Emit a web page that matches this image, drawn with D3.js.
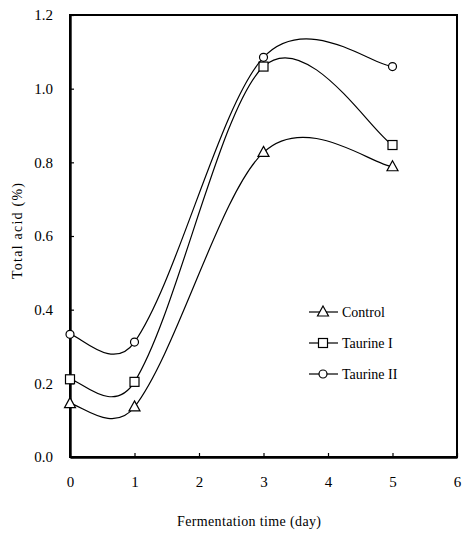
<!DOCTYPE html>
<html><head><meta charset="utf-8">
<script src="https://cdn.jsdelivr.net/npm/d3@7"></script>
<style>body{margin:0;background:#fff}svg{display:block}</style>
</head><body>
<script>
const days = [0, 1, 3, 5];
const control = [0.145, 0.136, 0.827, 0.788];
const taurineI = [0.211, 0.204, 1.06, 0.847];
const taurineII = [0.333, 0.312, 1.085, 1.06];
const seriesNames = ["Control", "Taurine I", "Taurine II"];
const seriesShapes = ["triangle", "square", "circle"];
const xTicks = [0, 1, 2, 3, 4, 5, 6];
const yTicks = [0.0, 0.2, 0.4, 0.6, 0.8, 1.0, 1.2];
const xTitle = "Fermentation time (day)";
const yTitle = "Total acid (%)";

const W = 464, H = 536;
const m = {left: 70, right: 7, top: 15, bottom: 79};
const FONT = '"Liberation Serif"';
const svg = d3.select("body").append("svg").attr("width", W).attr("height", H);
const x = d3.scaleLinear().domain([0, 6]).range([m.left, W - m.right]);
const y = d3.scaleLinear().domain([0, 1.2]).range([H - m.bottom, m.top]);

// smooth curve: Hermite tangents from neighbour finite differences (x-proportional)
function SmoothCurve(context) { this._context = context; }
SmoothCurve.prototype = {
  areaStart() { this._line = 0; }, areaEnd() { this._line = NaN; },
  lineStart() { this._pts = []; },
  point(px, py) { this._pts.push([+px, +py]); },
  lineEnd() {
    const p = this._pts, n = p.length, c = this._context;
    if (!n) return;
    c.moveTo(p[0][0], p[0][1]);
    if (n === 1) return;
    const slope = i => (i === 0 || i === n - 1) ? null
      : (p[i+1][1] - p[i-1][1]) / (p[i+1][0] - p[i-1][0]);
    for (let i = 0; i < n - 1; i++) {
      const a = p[i], b = p[i+1], dx = b[0] - a[0];
      const s0 = slope(i), s1 = slope(i+1);
      const c1 = s0 === null ? [a[0] + (b[0]-a[0])/6, a[1] + (b[1]-a[1])/6] : [a[0] + dx/3, a[1] + s0*dx/3];
      const c2 = s1 === null ? [b[0] - (b[0]-a[0])/6, b[1] - (b[1]-a[1])/6] : [b[0] - dx/3, b[1] - s1*dx/3];
      c.bezierCurveTo(c1[0], c1[1], c2[0], c2[1], b[0], b[1]);
    }
  }
};
const smoothCurve = ctx => new SmoothCurve(ctx);

// frame
svg.append("rect").attr("x", x(0)).attr("y", y(1.2)).attr("width", x(6) - x(0)).attr("height", y(0) - y(1.2))
  .attr("fill", "none").attr("stroke", "#000").attr("stroke-width", 2);

// axes
const xAxis = d3.axisBottom(x).tickValues(xTicks).tickFormat(d3.format("d")).tickSizeInner(-4).tickSizeOuter(0).tickPadding(19);
const gx = svg.append("g").attr("transform", `translate(0,${y(0)})`).call(xAxis);
gx.select(".domain").attr("stroke-width", 2.4);
gx.selectAll("text").style("font-family", FONT).attr("font-size", 15).attr("fill", "#000");

const yAxis = d3.axisLeft(y).tickValues(yTicks).tickFormat(d3.format(".1f")).tickSizeInner(-4).tickSizeOuter(0).tickPadding(17);
const gy = svg.append("g").attr("transform", `translate(${x(0)},0)`).call(yAxis);
gy.select(".domain").attr("stroke-width", 2.4);
gy.selectAll("text").style("font-family", FONT).attr("font-size", 15).attr("fill", "#000");
svg.selectAll(".tick line").attr("stroke-width", 1.2);

// titles
svg.append("text").attr("x", 177).attr("y", 526).attr("textLength", 144).attr("lengthAdjust", "spacing")
  .style("font-family", FONT).attr("font-size", 14).text(xTitle);
svg.append("text").attr("transform", `translate(22,${231}) rotate(-90)`).attr("text-anchor", "middle")
  .attr("textLength", 96).attr("lengthAdjust", "spacing")
  .style("font-family", FONT).attr("font-size", 14).text(yTitle);

const allSeries = [control, taurineI, taurineII];
const line = d3.line().x(d => x(d[0])).y(d => y(d[1])).curve(smoothCurve);

function marker(g, shape, cx, cy) {
  if (shape === "triangle") {
    g.append("path").attr("d", `M${cx},${cy-6}L${cx+5.5},${cy+4}L${cx-5.5},${cy+4}Z`)
      .attr("fill", "#fff").attr("stroke", "#000").attr("stroke-width", 1.2);
  } else if (shape === "square") {
    g.append("rect").attr("x", cx-4.5).attr("y", cy-4.5).attr("width", 9).attr("height", 9)
      .attr("fill", "#fff").attr("stroke", "#000").attr("stroke-width", 1.2);
  } else {
    g.append("circle").attr("cx", cx).attr("cy", cy).attr("r", 4)
      .attr("fill", "#fff").attr("stroke", "#000").attr("stroke-width", 1.2);
  }
}

allSeries.forEach((vals, i) => {
  const pts = days.map((d, j) => [d, vals[j]]);
  svg.append("path").datum(pts).attr("d", line).attr("fill", "none").attr("stroke", "#000").attr("stroke-width", 1.2);
  const g = svg.append("g");
  pts.forEach(p => marker(g, seriesShapes[i], x(p[0]), y(p[1])));
});

// legend
const legY = [312, 343, 374];
seriesNames.forEach((name, i) => {
  const g = svg.append("g");
  g.append("line").attr("x1", 309).attr("x2", 338).attr("y1", legY[i]).attr("y2", legY[i]).attr("stroke", "#000").attr("stroke-width", 1.2);
  marker(g, seriesShapes[i], 323, legY[i]);
  g.append("text").attr("x", 342).attr("y", legY[i] + 5).style("font-family", FONT).attr("font-size", 14).text(name);
});
</script>
</body></html>
